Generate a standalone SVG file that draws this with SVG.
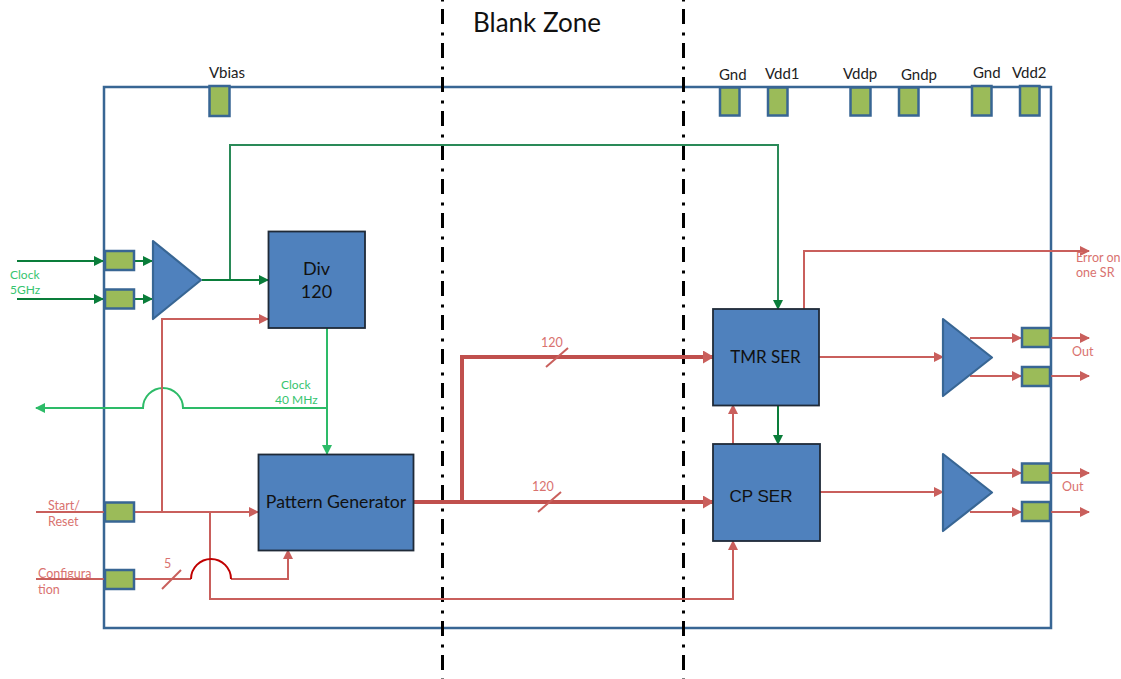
<svg xmlns="http://www.w3.org/2000/svg" width="1121" height="679" viewBox="0 0 1121 679">
<style>
text{font-family:"Lato","Open Sans","Liberation Sans",sans-serif}
.pad{fill:#9bbb59;stroke:#386694;stroke-width:2.5}
.blk{fill:#4f81bd;stroke:#1f2a38;stroke-width:1.8}
.tri{fill:#4f81bd;stroke:#386694;stroke-width:2.2;stroke-linejoin:round}
.l{fill:none;stroke-width:2}
.r{stroke:#c95f5c}
.dr{stroke:#c0504d;stroke-width:4;fill:none}
.g{stroke:#0a7d3a}
.dg{stroke:#2a8a58}
.lg{stroke:#2dbb68}
.sep{stroke:#000;stroke-width:3;fill:none;stroke-dasharray:15 8.500 3 7.500;stroke-dashoffset:25}
.lb{font-size:15px;fill:#222}
.t{font-size:18px;fill:#111;text-anchor:middle}
.rt{font-size:12.500px;fill:#d9726f}
.gt{font-size:12px;fill:#36c46f}
</style>
<defs>
<marker id="ar" markerWidth="10" markerHeight="10" refX="9" refY="5" orient="auto" markerUnits="userSpaceOnUse"><path d="M0 0L10 5L0 10z" fill="#c95f5c"/></marker>
<marker id="ag" markerWidth="10" markerHeight="10" refX="9" refY="5" orient="auto" markerUnits="userSpaceOnUse"><path d="M0 0L10 5L0 10z" fill="#0a7d3a"/></marker>
<marker id="alg" markerWidth="10" markerHeight="10" refX="9" refY="5" orient="auto" markerUnits="userSpaceOnUse"><path d="M0 0L10 5L0 10z" fill="#2dbb68"/></marker>
<marker id="abig" markerWidth="11" markerHeight="13" refX="10" refY="6.500" orient="auto" markerUnits="userSpaceOnUse"><path d="M0 0L11 6.500L0 13z" fill="#c95f5c"/></marker>
</defs>
<g id="chip"><rect x="104" y="87" width="947" height="541" fill="none" stroke="#386694" stroke-width="2.5"/></g>
<g id="separators">
<path class="sep" d="M442.500 0V679"/>
<path class="sep" d="M683.500 0V679"/>
</g>
<text x="473" y="32" font-size="26" fill="#111" id="blank-zone">Blank Zone</text>
<g id="connectors">
<path class="l g" d="M17 261H103" marker-end="url(#ag)"/>
<path class="l g" d="M17 299H103" marker-end="url(#ag)"/>
<path class="l g" d="M134 261H152" marker-end="url(#ag)"/>
<path class="l g" d="M134 299H152" marker-end="url(#ag)"/>
<path class="l dg" d="M230 280V145H778V309" marker-end="url(#ag)"/>
<path class="l g" d="M202 280H268" marker-end="url(#ag)"/>
<path class="l lg" d="M327 328V454" marker-end="url(#alg)"/>
<path class="l lg" d="M327 408H183A20 20 0 0 0 143 408H36" marker-end="url(#alg)"/>
<path class="l r" d="M36 512H258" marker-end="url(#ar)"/>
<path class="l r" d="M162 512V319H268" marker-end="url(#ar)"/>
<path class="l r" d="M210 512V599H733V541" marker-end="url(#ar)"/>
<path class="l r" d="M36 579H191M231 579H288V550" marker-end="url(#ar)"/>
<path class="l" stroke="#c00000" d="M191 579A20 20 0 0 1 231 579"/>
<path class="l r" d="M162 589L181 570"/>
<path class="dr" d="M413 502H713" marker-end="url(#abig)"/>
<path class="dr" d="M462 502V357H713" marker-end="url(#abig)"/>
<path class="l r" d="M546 367L568 348"/>
<path class="l r" d="M538 512L561 492"/>
<path class="l r" d="M804 309V251H1089" marker-end="url(#ar)"/>
<path class="l r" d="M819 357H943" marker-end="url(#ar)"/>
<path class="l r" d="M820 492H943" marker-end="url(#ar)"/>
<path class="l g" d="M778 405V444" marker-end="url(#ag)"/>
<path class="l r" d="M733 444V405" marker-end="url(#ar)"/>
<path class="l r" d="M970 338H1021" marker-end="url(#ar)"/>
<path class="l r" d="M970 376H1021" marker-end="url(#ar)"/>
<path class="l r" d="M970 473H1021" marker-end="url(#ar)"/>
<path class="l r" d="M970 512H1021" marker-end="url(#ar)"/>
<path class="l r" d="M1051 338H1089" marker-end="url(#ar)"/>
<path class="l r" d="M1051 376H1089" marker-end="url(#ar)"/>
<path class="l r" d="M1051 473H1089" marker-end="url(#ar)"/>
<path class="l r" d="M1051 512H1089" marker-end="url(#ar)"/>
</g>
<g id="pad-vbias"><rect class="pad" x="209.500" y="86" width="20" height="30"/><text class="lb" x="209" y="78">Vbias</text></g>
<g id="pad-gnd1"><rect class="pad" x="720" y="87.500" width="19.500" height="28"/><text class="lb" x="719" y="80">Gnd</text></g>
<g id="pad-vdd1"><rect class="pad" x="768" y="87.500" width="19.500" height="28"/><text class="lb" x="765" y="79">Vdd1</text></g>
<g id="pad-vddp"><rect class="pad" x="850.500" y="87.500" width="20" height="28"/><text class="lb" x="843" y="79">Vddp</text></g>
<g id="pad-gndp"><rect class="pad" x="899" y="87.500" width="19.500" height="28"/><text class="lb" x="901" y="80">Gndp</text></g>
<g id="pad-gnd2"><rect class="pad" x="972" y="86" width="19.500" height="29.500"/><text class="lb" x="973" y="78">Gnd</text></g>
<g id="pad-vdd2"><rect class="pad" x="1020" y="86" width="19.500" height="29.500"/><text class="lb" x="1012" y="78">Vdd2</text></g>
<g id="pad-clk1"><rect class="pad" x="105" y="251" width="29" height="19"/></g>
<g id="pad-clk2"><rect class="pad" x="105" y="289.500" width="29" height="19"/></g>
<g id="pad-start"><rect class="pad" x="105" y="502.500" width="29" height="19"/></g>
<g id="pad-config"><rect class="pad" x="105" y="570" width="29" height="19"/></g>
<g id="pad-out1"><rect class="pad" x="1022" y="328" width="28" height="19"/></g>
<g id="pad-out2"><rect class="pad" x="1022" y="367" width="28" height="19"/></g>
<g id="pad-out3"><rect class="pad" x="1022" y="463.500" width="28" height="19"/></g>
<g id="pad-out4"><rect class="pad" x="1022" y="502" width="28" height="19"/></g>
<g id="buf-clock"><path class="tri" d="M153 241L201 280L153 319z"/></g>
<g id="buf-tmr"><path class="tri" d="M943 319L992 357.500L943 396z"/></g>
<g id="buf-cp"><path class="tri" d="M943 454L992 492.500L943 531z"/></g>
<g id="div"><rect class="blk" x="268.500" y="231.500" width="96.500" height="96.500"/><text class="t" x="316.500" y="275">Div</text><text class="t" x="316.500" y="298">120</text></g>
<g id="pattern"><rect class="blk" x="258.500" y="454.500" width="155" height="96"/><text class="t" x="336" y="508" style="font-size:17.700px">Pattern Generator</text></g>
<g id="tmr"><rect class="blk" x="713" y="309" width="106" height="96.500"/><text class="t" x="765.500" y="363" style="font-size:17px">TMR SER</text></g>
<g id="cp"><rect class="blk" x="713" y="444" width="107" height="97"/><text class="t" x="761" y="502" style="font-family:'Liberation Sans',sans-serif;font-size:17px">CP SER</text></g>
<g id="labels">
<text class="gt" x="10" y="279">Clock</text><text class="gt" x="10" y="294">5GHz</text>
<text class="gt" x="281" y="389">Clock</text><text class="gt" x="275" y="404">40 MHz</text>
<text class="rt" x="48" y="510">Start/</text><text class="rt" x="48" y="526">Reset</text>
<text class="rt" x="38" y="578">Configura</text><text class="rt" x="38" y="594">tion</text>
<text class="rt" x="164" y="568">5</text>
<text class="rt" x="541" y="347">120</text>
<text class="rt" x="532" y="491">120</text>
<text class="rt" x="1076" y="262">Error on</text><text class="rt" x="1076" y="277">one SR</text>
<text class="rt" x="1072" y="356">Out</text>
<text class="rt" x="1062" y="491">Out</text>
</g>
</svg>
